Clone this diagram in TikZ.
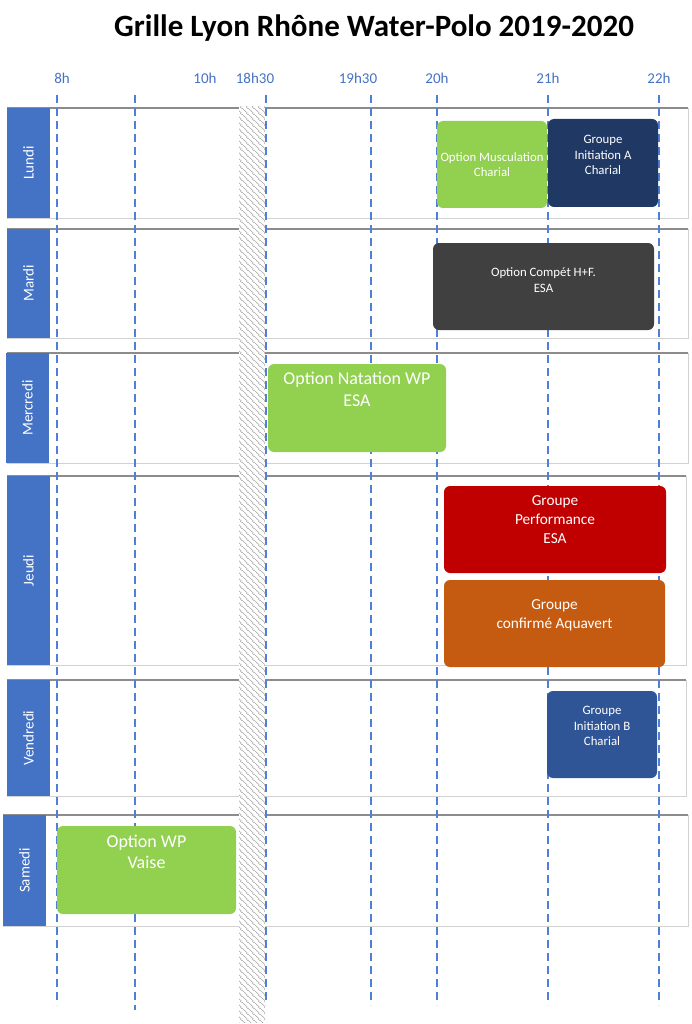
\documentclass[tikz,border=0pt]{standalone}
\usepackage{fontspec}
\setmainfont{Carlito}
\usetikzlibrary{patterns.meta}

\definecolor{jourbleu}{HTML}{4472C4}
\definecolor{tiretbleu}{HTML}{4F7FD6}
\definecolor{vert}{HTML}{92D050}
\definecolor{marine}{HTML}{1F3864}
\definecolor{anthracite}{HTML}{404040}
\definecolor{rouge}{HTML}{C00000}
\definecolor{orange}{HTML}{C55A11}
\definecolor{bleumoyen}{HTML}{2F5597}

% 斜线图案
\tikzdeclarepattern{
  name=hachure, type=uncolored,
  bounding box={(0pt,0pt) and (5.5pt,5.5pt)},
  tile size={(5.5pt,5.5pt)},
  code={
    \draw[line width=0.6pt] (-1pt,6.5pt) -- (6.5pt,-1pt);
    \draw[line width=0.6pt] (-1pt,1pt) -- (1pt,-1pt);
    \draw[line width=0.6pt] (4.5pt,6.5pt) -- (6.5pt,4.5pt);
  }
}

\begin{document}
\begin{tikzpicture}[x=1pt,y=-1pt,
    heure/.style={text=jourbleu, font=\fontsize{15}{18}\selectfont},
    jour/.style={text=white, rotate=90, font=\fontsize{15}{18}\selectfont},
    tiret/.style={tiretbleu, line width=1.1pt, dash pattern=on 8pt off 5pt},
    ligne/.style={draw=gray!35, line width=0.8pt},
    bord/.style={gray!90, line width=2pt},
    creneau/.style={rounded corners=6pt, inner sep=0pt},
    petit/.style={text=white, align=center, font=\fontsize{12.8}{15.5}\selectfont},
    moyen/.style={text=white, align=center, font=\fontsize{15.3}{19}\selectfont},
    grand/.style={text=white, align=center, font=\fontsize{18}{21.5}\selectfont}]
\useasboundingbox (0,0) rectangle (691,1024);

% 标题
    \node[font=\fontsize{31}{36}\selectfont\bfseries] (titre) at (374,28) {Grille Lyon Rhône Water-Polo 2019-2020};

% 时间标签
    \node[heure] (t8) at (62,78) {8h};
    \node[heure] (t10) at (205,78) {10h};
    \node[heure] (t1830) at (255,78) {18h30};
    \node[heure] (t1930) at (358,78) {19h30};
    \node[heure] (t20) at (437,78) {20h};
    \node[heure] (t21) at (548,78) {21h};
    \node[heure] (t22) at (659,78) {22h};

% 每天的行框
    \draw[ligne] (7,108) rectangle (688,218);   \draw[bord] (7,108) -- (688,108);
    \draw[ligne] (7,229) rectangle (688,338);   \draw[bord] (7,229) -- (688,229);
    \draw[ligne] (7,353) rectangle (688,463);   \draw[bord] (7,353) -- (688,353);
    \draw[ligne] (7,476) rectangle (686,665);   \draw[bord] (7,476) -- (686,476);
    \draw[ligne] (7,680) rectangle (686,796);   \draw[bord] (7,680) -- (686,680);
    \draw[ligne] (3,815) rectangle (688,926);   \draw[bord] (3,815) -- (688,815);

% 斜线阴影带
    \fill[white] (239,107) rectangle (265,1022);
    \fill[pattern=hachure, pattern color=gray!65] (239,107) rectangle (265,1022);

% 虚线
    \draw[tiret] (57,95) -- (57,1005);
    \draw[tiret] (135,95) -- (135,1010);
    \draw[tiret] (266,95) -- (266,1005);
    \draw[tiret] (371,95) -- (371,1005);
    \draw[tiret] (437,95) -- (437,1005);
    \draw[tiret] (548,95) -- (548,1005);
    \draw[tiret] (659,95) -- (659,1005);

% 星期
    \fill[jourbleu] (7,108) rectangle (50,218);  \node[jour] (lundi) at (28.5,163) {Lundi};
    \fill[jourbleu] (7,229) rectangle (50,338);  \node[jour] (mardi) at (28.5,283.5) {Mardi};
    \fill[jourbleu] (6,353) rectangle (49,463);  \node[jour] (mercredi) at (27.5,408) {Mercredi};
    \fill[jourbleu] (7,476) rectangle (50,665);  \node[jour] (jeudi) at (28.5,570.5) {Jeudi};
    \fill[jourbleu] (7,680) rectangle (50,796);  \node[jour] (vendredi) at (28.5,738) {Vendredi};
    \fill[jourbleu] (3,815) rectangle (46,926);  \node[jour] (samedi) at (24.5,870.5) {Samedi};

% 训练时段
    \node[creneau, fill=vert, minimum width=110pt, minimum height=87pt] (muscu) at (492,164.5) {};
    \node[petit] (muscu-t) at (muscu.center) {Option Musculation\\Charial};

    \node[creneau, fill=marine, minimum width=110pt, minimum height=88pt] (initA) at (603,163) {};
    \node[petit] (initA-t) at ([yshift=8pt]initA.center) {Groupe\\Initiation A\\Charial};

    \node[creneau, fill=anthracite, minimum width=221pt, minimum height=87pt] (compet) at (543.5,286.5) {};
    \node[petit] (compet-t) at ([yshift=6.5pt]compet.center) {Option Compét H+F.\\ESA};

    \node[creneau, fill=vert, minimum width=178pt, minimum height=88pt] (natation) at (357,408) {};
    \node[grand] (natation-t) at ([yshift=18.5pt]natation.center) {Option Natation WP\\ESA};

    \node[creneau, fill=rouge, minimum width=222pt, minimum height=87pt] (perf) at (555,529.5) {};
    \node[moyen] (perf-t) at ([yshift=9.5pt]perf.center) {Groupe\\Performance\\ESA};

    \node[creneau, fill=orange, minimum width=221pt, minimum height=87pt] (aquavert) at (554.5,623.5) {};
    \node[moyen] (aquavert-t) at ([yshift=8pt]aquavert.center) {Groupe\\confirmé Aquavert};

    \node[creneau, fill=bleumoyen, minimum width=110pt, minimum height=87pt] (initB) at (602,734.5) {};
    \node[petit] (initB-t) at ([yshift=8.5pt]initB.center) {Groupe\\Initiation B\\Charial};

    \node[creneau, fill=vert, minimum width=179pt, minimum height=88pt] (vaise) at (146.5,870) {};
    \node[grand] (vaise-t) at ([yshift=18pt]vaise.center) {Option WP\\Vaise};
\end{tikzpicture}
\end{document}
